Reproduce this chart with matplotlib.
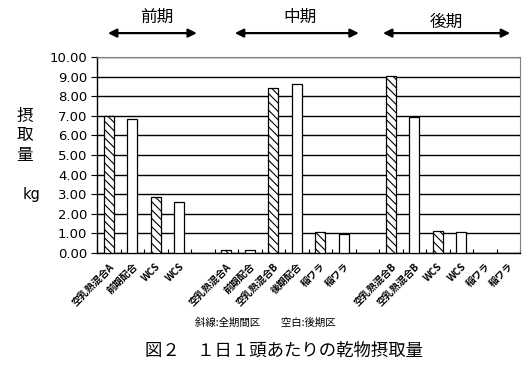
import numpy as np
import matplotlib
matplotlib.use('Agg')
import matplotlib.pyplot as plt
from matplotlib.patches import FancyArrowPatch

plt.rcParams['font.family'] = ['Noto Sans CJK JP', 'DejaVu Sans']
plt.rcParams['hatch.linewidth'] = 0.8

# feed items (one slot per bar, '' = empty gap between periods)
labels = ['空乳熟混合A', '前期配合', 'WCS', 'WCS', '',
          '空乳熟混合A', '前期配合', '空乳熟混合B', '後期配合', '稲ワラ', '稲ワラ', '',
          '空乳熟混合B', '空乳熟混合B', 'WCS', 'WCS', '稲ワラ', '稲ワラ']
# dry matter intake (kg)
values = [7.00, 6.85, 2.88, 2.58, 0,
          0.15, 0.15, 8.42, 8.62, 1.05, 0.98, 0,
          9.05, 6.95, 1.10, 1.05, 0, 0]
# True = hatched (全期間区), False = white (後期区)
hatched = [True, False, True, False, False,
           True, False, True, False, True, False, False,
           True, False, True, False, True, False]

fig = plt.figure(figsize=(5.31, 3.72), dpi=100)
ax = fig.add_axes([0.1827, 0.3199, 0.7966, 0.5269])

x = np.arange(len(labels))
for xi, v, h in zip(x, values, hatched):
    if v <= 0:
        continue
    ax.bar(xi, v, width=0.42, color='white', edgecolor='black', linewidth=0.9,
           hatch='\\\\\\\\' if h else None, zorder=3)

ax.set_xlim(-0.5, len(labels) - 0.5)
ax.set_ylim(0, 10)
ax.set_yticks(np.arange(0, 10.01, 1))
ax.set_yticklabels([f'{v:.2f}' for v in np.arange(0, 10.01, 1)], fontsize=9.5,
                   family='DejaVu Sans')
ax.yaxis.grid(True, color='black', linewidth=1.0, zorder=0)
ax.set_axisbelow(True)

ax.set_xticks(x)
ax.set_xticklabels(labels, rotation=45, ha='right', rotation_mode='anchor',
                   fontsize=7, fontweight='bold')
ax.tick_params(axis='x', length=0, pad=6)
ax.set_xticks(np.arange(-0.5, len(labels), 1), minor=True)
ax.tick_params(axis='x', which='minor', direction='in', length=3, width=0.8)
ax.tick_params(axis='y', direction='out', length=4, width=0.8, pad=3)

for s in ['top', 'right']:
    ax.spines[s].set_color('gray')
for s in ['left', 'bottom']:
    ax.spines[s].set_color('black')
    ax.spines[s].set_linewidth(1.0)

# y-axis label, placed beside the 7.00 / 6.00 / 5.00 / 3.00 ticks
for ch, yy in zip(['摂', '取', '量'], [0.688, 0.636, 0.583]):
    fig.text(0.047, yy, ch, fontsize=12, ha='center', va='center')
fig.text(0.06, 0.478, 'kg', fontsize=10.5, ha='center', va='center', family='DejaVu Sans')

# period arrows
periods = [('前期', 0.198, 0.376, 0.295), ('中期', 0.437, 0.681, 0.565), ('後期', 0.716, 0.966, 0.84)]
for name, x0, x1, xt in periods:
    fig.add_artist(FancyArrowPatch(
        (x0, 0.911), (x1, 0.911), transform=fig.transFigure,
        arrowstyle='<|-|>,head_length=5,head_width=2.5', color='black', linewidth=1.6))
    fig.text(xt, 0.952 if name != '後期' else 0.94, name, fontsize=12, ha='center', va='center')

fig.text(0.5, 0.133, '斜線:全期間区　　空白:後期区', fontsize=7.5, ha='center', va='center')
fig.text(0.535, 0.058, '図２　１日１頭あたりの乾物摂取量', fontsize=12.5, ha='center', va='center')

fig.savefig('out.png', dpi=100)
